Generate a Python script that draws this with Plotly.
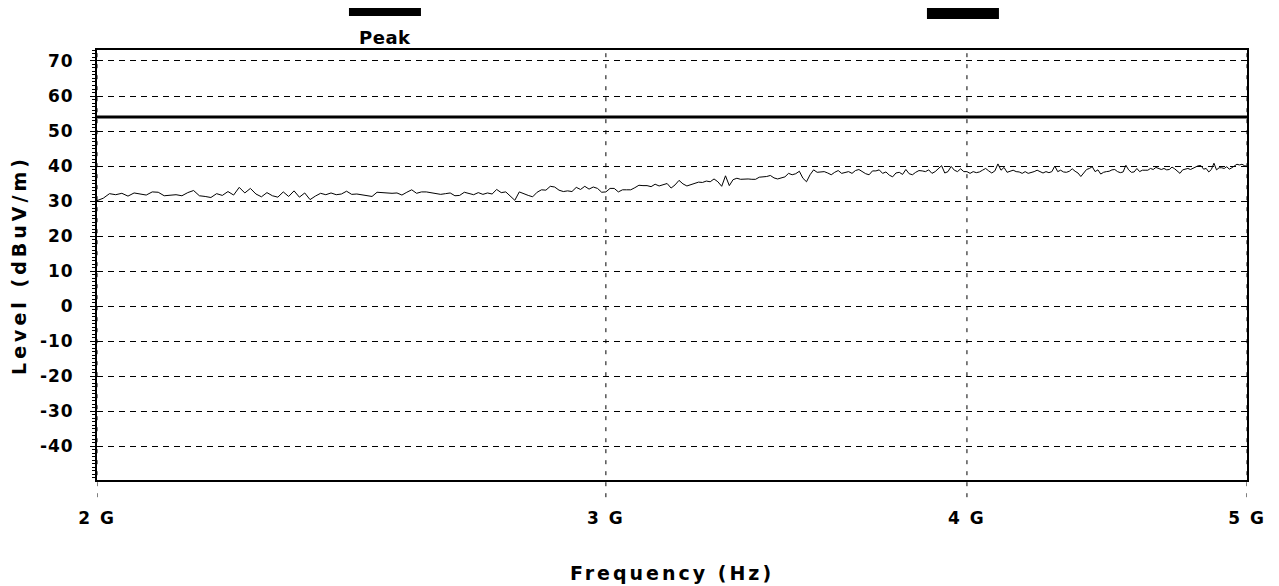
import math
import plotly.graph_objects as go

# ---------------- data ----------------
freq_mhz = [
    2000, 2010, 2020, 2030, 2040, 2050, 2060, 2070, 2080, 2090,
    2100, 2110, 2120, 2130, 2140, 2150, 2160, 2170, 2180, 2190,
    2200, 2210, 2220, 2230, 2240, 2250, 2260, 2270, 2280, 2290,
    2300, 2310, 2320, 2330, 2340, 2350, 2360, 2370, 2380, 2390,
    2400, 2410, 2420, 2430, 2440, 2450, 2460, 2470, 2480, 2490,
    2500, 2510, 2520, 2530, 2540, 2550, 2560, 2570, 2580, 2590,
    2600, 2610, 2620, 2630, 2640, 2650, 2660, 2670, 2680, 2690,
    2700, 2710, 2720, 2730, 2740, 2750, 2760, 2770, 2780, 2790,
    2800, 2810, 2820, 2830, 2840, 2850, 2860, 2870, 2880, 2890,
    2900, 2910, 2920, 2930, 2940, 2950, 2960, 2970, 2980, 2990,
    3000, 3010, 3020, 3030, 3040, 3050, 3060, 3070, 3080, 3090,
    3100, 3110, 3120, 3130, 3140, 3150, 3160, 3170, 3180, 3190,
    3200, 3210, 3220, 3230, 3240, 3250, 3260, 3270, 3280, 3290,
    3300, 3310, 3320, 3330, 3340, 3350, 3360, 3370, 3380, 3390,
    3400, 3410, 3420, 3430, 3440, 3450, 3460, 3470, 3480, 3490,
    3500, 3510, 3520, 3530, 3540, 3550, 3560, 3570, 3580, 3590,
    3600, 3610, 3620, 3630, 3640, 3650, 3660, 3670, 3680, 3690,
    3700, 3710, 3720, 3730, 3740, 3750, 3760, 3770, 3780, 3790,
    3800, 3810, 3820, 3830, 3840, 3850, 3860, 3870, 3880, 3890,
    3900, 3910, 3920, 3930, 3940, 3950, 3960, 3970, 3980, 3990,
    4000, 4010, 4020, 4030, 4040, 4050, 4060, 4070, 4080, 4090,
    4100, 4110, 4120, 4130, 4140, 4150, 4160, 4170, 4180, 4190,
    4200, 4210, 4220, 4230, 4240, 4250, 4260, 4270, 4280, 4290,
    4300, 4310, 4320, 4330, 4340, 4350, 4360, 4370, 4380, 4390,
    4400, 4410, 4420, 4430, 4440, 4450, 4460, 4470, 4480, 4490,
    4500, 4510, 4520, 4530, 4540, 4550, 4560, 4570, 4580, 4590,
    4600, 4610, 4620, 4630, 4640, 4650, 4660, 4670, 4680, 4690,
    4700, 4710, 4720, 4730, 4740, 4750, 4760, 4770, 4780, 4790,
    4800, 4810, 4820, 4830, 4840, 4850, 4860, 4870, 4880, 4890,
    4900, 4910, 4920, 4930, 4940, 4950, 4960, 4970, 4980, 4990, 5000,
]

level_dbuv = [
    30.1, 30.8, 32.1, 31.8, 32.2, 31.4, 32.3, 31.9, 31.7, 32.6,
    32.5, 31.5, 31.6, 31.8, 31.5, 32.4, 33.0, 31.5, 31.3, 31.0,
    32.1, 31.6, 32.7, 31.7, 33.9, 32.3, 33.6, 32.0, 31.2, 32.4,
    31.5, 31.1, 32.6, 31.3, 32.9, 31.1, 32.3, 30.4, 31.4, 32.2,
    31.8, 32.3, 31.8, 32.0, 32.8, 31.9, 32.0, 31.8, 31.7, 31.3,
    32.5, 32.4, 32.1, 32.2, 32.3, 31.7, 32.5, 33.2, 32.2, 32.6,
    32.6, 32.3, 32.2, 31.9, 32.1, 32.3, 31.5, 31.6, 32.5, 32.2,
    31.8, 32.4, 31.9, 32.3, 32.0, 33.3, 32.4, 32.6, 31.5, 30.2,
    32.6, 32.0, 31.6, 31.2, 32.5, 33.2, 33.1, 34.2, 34.0, 33.1,
    32.7, 32.9, 32.7, 33.9, 33.3, 34.2, 33.4, 34.0, 33.6, 32.5,
    32.6, 33.6, 33.6, 32.6, 33.2, 33.2, 33.2, 33.8, 34.5, 34.4,
    34.4, 34.1, 34.8, 34.3, 34.6, 35.0, 33.7, 34.6, 35.9, 34.9,
    34.3, 34.7, 35.0, 35.4, 35.3, 35.7, 35.5, 36.3, 35.5, 34.2,
    37.2, 34.4, 36.1, 36.5, 36.2, 36.3, 36.3, 36.2, 36.2, 36.8,
    36.8, 37.0, 37.3, 36.6, 36.3, 36.6, 36.9, 37.9, 37.5, 37.8,
    38.5, 36.5, 35.5, 37.5, 38.9, 38.2, 38.2, 38.4, 38.0, 37.5,
    38.2, 38.7, 37.9, 38.2, 38.4, 37.9, 38.7, 39.0, 38.4, 37.8,
    37.5, 38.6, 38.6, 38.9, 37.9, 38.3, 37.4, 36.9, 38.0, 38.2,
    37.6, 39.0, 37.8, 37.5, 38.2, 38.7, 38.6, 38.4, 38.9, 37.9,
    38.4, 39.2, 40.1, 38.0, 38.4, 39.9, 38.8, 38.4, 39.2, 38.4,
    38.4, 37.9, 38.4, 38.1, 38.3, 38.8, 39.3, 38.6, 38.0, 38.6,
    40.6, 38.8, 39.6, 38.2, 38.5, 38.8, 38.4, 38.3, 37.9, 38.4,
    37.9, 38.1, 38.4, 38.8, 38.3, 38.0, 38.4, 38.1, 38.4, 40.0,
    38.4, 38.8, 38.3, 38.2, 38.5, 39.2, 38.5, 38.0, 37.0, 38.0,
    39.0, 39.3, 39.8, 38.4, 38.9, 37.7, 38.2, 38.4, 38.5, 38.9,
    39.0, 38.4, 38.1, 38.3, 40.2, 38.9, 38.2, 38.3, 39.3, 38.4,
    38.8, 38.8, 38.8, 39.3, 39.0, 39.6, 39.3, 39.0, 39.3, 38.9,
    39.0, 39.7, 39.2, 38.4, 37.9, 38.9, 39.1, 39.3, 39.0, 39.3,
    39.8, 40.1, 40.1, 39.1, 39.3, 38.3, 39.0, 40.8, 38.9, 39.5,
    39.5, 39.3, 39.8, 39.1, 39.5, 40.0, 40.5, 40.3, 40.5, 40.1, 39.9,
]

limit_dbuv = 54.0
x_tick_hz = [2e9, 3e9, 4e9, 5e9]
x_tick_labels = ["2 G", "3 G", "4 G", "5 G"]
y_tick_vals = [-40, -30, -20, -10, 0, 10, 20, 30, 40, 50, 60, 70]
y_tick_labels = ["-40", "-30", "-20", "-10", "0", "10", "20", "30", "40", "50", "60", "70"]
y_range = [-49.7, 73.14]
legend_label = "Peak"
x_title = "Frequency (Hz)"
y_title = "Level (dBuV/m)"

FONT = "DejaVu Sans"


def spaced(text, px):
    return '<span style="letter-spacing:%spx">%s</span>' % (px, text)


fig = go.Figure()
fig.add_trace(go.Scatter(
    x=[f * 1e6 for f in freq_mhz], y=level_dbuv, mode="lines",
    line=dict(color="black", width=1), name=legend_label,
))
fig.add_trace(go.Scatter(
    x=[x_tick_hz[0], x_tick_hz[-1]], y=[limit_dbuv, limit_dbuv], mode="lines",
    line=dict(color="black", width=3), name="Limit",
))

# vertical dashed grid lines that continue slightly below the axis
for v in x_tick_hz:
    fig.add_shape(type="line", xref="x", yref="paper", x0=v, x1=v, y0=-0.04, y1=1,
                  line=dict(color="black", width=1, dash="4px,7px"), layer="below")

# legend-like bars at the top
fig.add_shape(type="rect", xref="paper", yref="paper", x0=0.2191, x1=0.2817,
              y0=1.0791, y1=1.0988, fillcolor="black", line=dict(width=0))
fig.add_shape(type="rect", xref="paper", yref="paper", x0=0.7217, x1=0.7843,
              y0=1.0721, y1=1.1047, fillcolor="black", line=dict(width=0))
fig.add_annotation(text=spaced(legend_label, 0.5), xref="paper", yref="paper",
                   x=0.2504, y=1.0302, showarrow=False, xanchor="center", yanchor="middle",
                   font=dict(family=FONT, size=18, color="black", weight="bold"))

fig.update_layout(
    width=1279, height=586,
    margin=dict(l=89, r=40, t=42, b=114, autoexpand=False),
    paper_bgcolor="white", plot_bgcolor="white",
    showlegend=False,
    font=dict(family=FONT, size=17, color="black"),
    xaxis=dict(
        type="log", range=[math.log10(x_tick_hz[0]), math.log10(x_tick_hz[-1])],
        tickvals=x_tick_hz, ticktext=[spaced(t, 2) for t in x_tick_labels],
        showgrid=False, zeroline=False, automargin=False,
        showline=True, linecolor="black", linewidth=2, mirror=True,
        ticks="", ticklabelstandoff=22,
        tickfont=dict(family=FONT, size=17, color="black", weight="bold"),
        title=dict(text=spaced(x_title, 3), standoff=39,
                   font=dict(family=FONT, size=19, color="black", weight="bold")),
    ),
    yaxis=dict(
        range=y_range, tickvals=y_tick_vals, ticktext=[spaced(t, 1) for t in y_tick_labels],
        showgrid=True, gridcolor="black", gridwidth=1, griddash="6px,5px",
        zeroline=False, automargin=False,
        showline=True, linecolor="black", linewidth=2, mirror=True,
        ticks="outside", ticklen=5, tickcolor="black", ticklabelstandoff=13,
        minor=dict(dtick=1, ticks="outside", ticklen=3, tickcolor="black", showgrid=False),
        tickfont=dict(family=FONT, size=17, color="black", weight="bold"),
        title=dict(text=spaced(y_title, 4), standoff=10,
                   font=dict(family=FONT, size=19, color="black", weight="bold")),
    ),
)

fig.write_html("out.html")
